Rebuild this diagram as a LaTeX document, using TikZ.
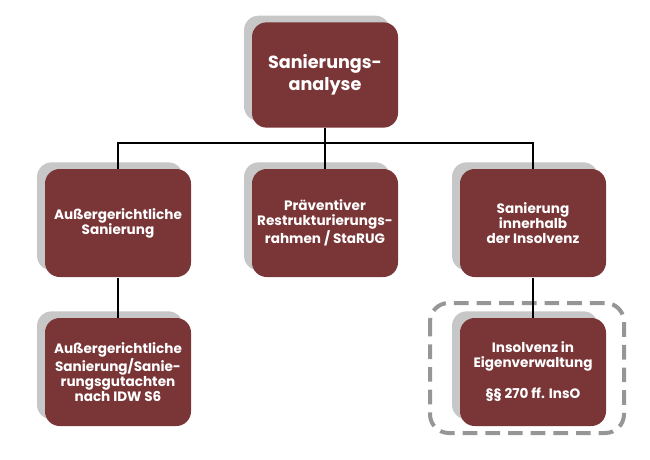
\documentclass[tikz,border=0pt]{standalone}
\usepackage{fontspec}
\setmainfont{Poppins}
\usetikzlibrary{shadows}

\definecolor{boxred}{RGB}{122,53,55}
\definecolor{frame}{RGB}{150,150,150}

\tikzset{every picture/.style={line width=0.75pt}}
\tikzset{
  box/.style={draw=none, fill=boxred, rounded corners=11pt, minimum width=109.5pt, minimum height=81pt,
    text=white, align=center, inner sep=2pt, font=\fontsize{10.2}{11.2}\selectfont\bfseries,
    general shadow={fill=gray!55, shadow xshift=-6pt, shadow yshift=5pt, opacity=0.8}},
  topbox/.style={box, minimum height=79pt, font=\fontsize{13.2}{16.5}\selectfont\bfseries},
  link/.style={draw=black, line width=1.2pt},
}

\begin{document}
\begin{tikzpicture}[x=0.75pt,y=0.75pt,yscale=-1,xscale=1]
        \useasboundingbox (0,0) rectangle (650,460);

        % Dashed frame
        \draw [color=frame, line width=3pt, dash pattern={on 11pt off 6pt}, rounded corners=14pt] (430,303) rectangle (624,433) ;

        % Boxes
        \node [topbox] (analyse) at (325,75) {Sanierungs-\\analyse};
        \node [box] (aussen) at (118,223) {Außergerichtliche\\Sanierung};
        \node [box] (starug) at (325,223) {Präventiver\\Restrukturierungs-\\rahmen / StaRUG};
        \node [box] (insolvenz) at (533,223) {Sanierung\\innerhalb\\der Insolvenz};
        \node [box] (gutachten) at (118,372) {Außergerichtliche\\Sanierung/Sanie-\\rungsgutachten\\nach IDW S6};
        \node [box] (eigen) at (533,372) {Insolvenz in\\Eigenverwaltung\\[12pt]§§ 270 ff. InsO};

        % Connectors
        \coordinate (bus) at (325,143) ;
        \draw [link] (analyse.south) -- (bus) ;
        \draw [link] (aussen.north) |- (bus) -| (insolvenz.north) ;
        \draw [link] (bus) -- (starug.north) ;
        \draw [link] (aussen.south) -- (gutachten.north) ;
        \draw [link] (insolvenz.south) -- (eigen.north) ;
\end{tikzpicture}
\end{document}
